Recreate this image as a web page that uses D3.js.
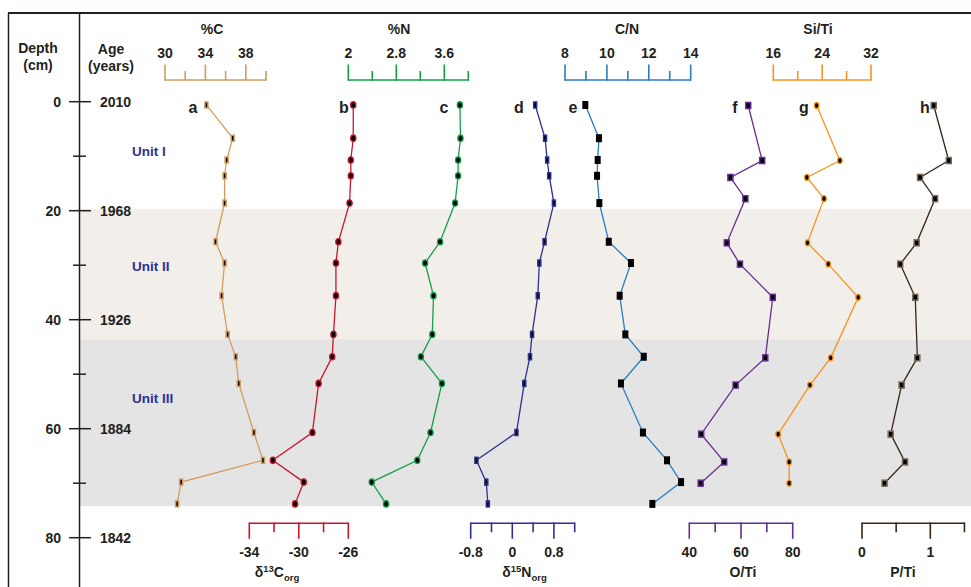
<!DOCTYPE html>
<html>
<head>
<meta charset="utf-8">
<script src="https://cdn.jsdelivr.net/npm/d3@7"></script>
<style>
  html, body { margin: 0; padding: 0; background: #fff; }
  svg { display: block; font-family: "Liberation Sans", Arial, sans-serif; }
</style>
</head>
<body>
<svg id="chart" width="971" height="587"></svg>
<script>
// ---- Data ----
// Sample depths (cm) for the bulk organic measurements (panels a–e)
const depthsOrg = [0.6, 6.7, 10.7, 13.6, 18.6, 25.7, 29.6, 35.6, 42.7, 46.8, 51.7, 60.7, 65.8, 69.8, 73.8];
// Sample depths (cm) for the XRF ratios (panels f–h)
const depthsXrf = [0.7, 10.8, 13.9, 17.8, 25.9, 29.8, 35.9, 47.0, 52.0, 61.0, 66.1, 70.0];

const pctC   = [34.1, 36.7, 36.1, 35.9, 35.9, 35.0, 35.9, 35.6, 36.2, 37.0, 37.3, 38.8, 39.7, 31.6, 31.2];
const d13C   = [-25.6, -25.6, -25.8, -25.8, -25.9, -26.8, -27.0, -27.0, -27.2, -27.3, -28.4, -28.9, -32.1, -29.6, -30.3];
const pctN   = [3.86, 3.87, 3.83, 3.83, 3.78, 3.53, 3.28, 3.42, 3.40, 3.21, 3.56, 3.37, 3.15, 2.39, 2.63];
const d15N   = [0.44, 0.63, 0.67, 0.71, 0.80, 0.62, 0.52, 0.49, 0.38, 0.34, 0.23, 0.08, -0.69, -0.50, -0.47];
const cnRatio = [8.97, 9.62, 9.56, 9.53, 9.64, 10.09, 11.15, 10.61, 10.88, 11.76, 10.67, 11.72, 12.87, 13.54, 12.17];
const oTi    = [62.8, 68.2, 55.9, 61.7, 54.5, 59.6, 72.3, 69.4, 57.9, 44.6, 53.5, 44.4];
const siTi   = [23.1, 26.9, 21.5, 24.3, 21.6, 25.0, 29.9, 25.4, 22.0, 16.8, 18.6, 18.6];
const pTi    = [1.05, 1.27, 0.85, 1.07, 0.80, 0.56, 0.78, 0.81, 0.58, 0.42, 0.63, 0.33];

// Depth axis ticks and the matching ages
const depthTicks = [0, 20, 40, 60, 80];
const depthMinorTicks = [10, 30, 50, 70];
const ageLabels = ["2010", "1968", "1926", "1884", "1842"];

// Lithological units: [top, bottom] depth in cm
const unitNames = ["Unit I", "Unit II", "Unit III"];
const unitBounds = [[0, 19.7], [19.7, 43.6], [43.6, 74.2]];
const unitLabelDepths = [9, 30.2, 54.4];

// Axis ticks for each proxy
const ticksC    = [30, 32, 34, 36, 38, 40];
const ticksN    = [2, 2.4, 2.8, 3.2, 3.6, 4];
const ticksCN   = [8, 9, 10, 11, 12, 13, 14];
const ticksSiTi = [16, 20, 24, 28, 32];
const ticksD13  = [-34, -32, -30, -28, -26];
const ticksD15  = [-0.8, -0.4, 0, 0.4, 0.8, 1.2];
const ticksOTi  = [40, 50, 60, 70, 80];
const ticksPTi  = [0, 0.5, 1, 1.5];

const labelsC    = ["30", "34", "38"];
const labelsN    = ["2", "2.8", "3.6"];
const labelsCN   = ["8", "10", "12", "14"];
const labelsSiTi = ["16", "24", "32"];
const labelsD13  = ["-34", "-30", "-26"];
const labelsD15  = ["-0.8", "0", "0.8"];
const labelsOTi  = ["40", "60", "80"];
const labelsPTi  = ["0", "1"];

// ---- Drawing ----
const svg = d3.select("#chart");
const ink = "#231f20";

const y = d3.scaleLinear().domain([0, 80]).range([101.7, 537.7]);

// Unit background bands
const bandFill = ["none", "#f2efeb", "#e4e4e4"];
svg.append("g").selectAll("rect")
  .data(unitBounds)
  .join("rect")
  .attr("x", 80).attr("width", 891)
  .attr("y", d => y(d[0]))
  .attr("height", d => y(d[1]) - y(d[0]))
  .attr("fill", (d, i) => bandFill[i]);

// Frame lines
svg.append("line").attr("x1", 8).attr("x2", 971).attr("y1", 13).attr("y2", 13)
  .attr("stroke", ink).attr("stroke-width", 2);
svg.append("line").attr("x1", 8.5).attr("x2", 8.5).attr("y1", 13).attr("y2", 587)
  .attr("stroke", ink).attr("stroke-width", 1.5);
svg.append("line").attr("x1", 79.5).attr("x2", 79.5).attr("y1", 13).attr("y2", 587)
  .attr("stroke", ink).attr("stroke-width", 1.5);

// Header labels
const hdr = svg.append("g").attr("font-weight", "bold").attr("font-size", 14)
  .attr("fill", ink).attr("text-anchor", "middle");
hdr.append("text").attr("x", 38).attr("y", 53).text("Depth");
hdr.append("text").attr("x", 38).attr("y", 70).text("(cm)");
hdr.append("text").attr("x", 111).attr("y", 54).text("Age");
hdr.append("text").attr("x", 111).attr("y", 71).text("(years)");

// Depth / age axis
const dAxis = svg.append("g");
dAxis.selectAll("line.major").data(depthTicks).join("line")
  .attr("x1", 69).attr("x2", 91)
  .attr("y1", d => y(d)).attr("y2", d => y(d))
  .attr("stroke", ink).attr("stroke-width", 1.5);
dAxis.selectAll("line.minor").data(depthMinorTicks).join("line")
  .attr("x1", 73).attr("x2", 86)
  .attr("y1", d => y(d)).attr("y2", d => y(d))
  .attr("stroke", ink).attr("stroke-width", 1.5);
dAxis.selectAll("text.depth").data(depthTicks).join("text")
  .attr("x", 61).attr("y", d => y(d) + 5)
  .attr("text-anchor", "end").attr("font-weight", "bold").attr("font-size", 14)
  .attr("fill", ink).text(d => d);
dAxis.selectAll("text.age").data(ageLabels).join("text")
  .attr("x", 100).attr("y", (d, i) => y(depthTicks[i]) + 5)
  .attr("font-weight", "bold").attr("font-size", 14)
  .attr("fill", ink).text(d => d);

// Unit labels
svg.append("g").selectAll("text").data(unitNames).join("text")
  .attr("x", 132).attr("y", (d, i) => y(unitLabelDepths[i]) + 5)
  .attr("font-weight", "bold").attr("font-size", 13.5)
  .attr("fill", "#2e3192").text(d => d);

// Proxy panels
const panels = [
  { key: "a", vals: pctC,    depths: depthsOrg, color: "#d39c5e", dom: [30, 40],   rng: [165, 266],   side: "top",
    ticks: ticksC, labels: labelsC, title: [{ t: "%C" }], titleX: 212, marker: "rect", mw: 3, mh: 6, letterX: 193 },
  { key: "b", vals: d13C,    depths: depthsOrg, color: "#c8172b", dom: [-34, -26], rng: [249.3, 348.3], side: "bottom",
    ticks: ticksD13, labels: labelsD13, title: [{ t: "δ" }, { t: "13", sup: true }, { t: "C" }, { t: "org", sub: true }], titleX: 277, marker: "ellipse", mw: 2.6, mh: 3.2, letterX: 344 },
  { key: "c", vals: pctN,    depths: depthsOrg, color: "#13a04b", dom: [2, 4],     rng: [348.3, 468.3], side: "top",
    ticks: ticksN, labels: labelsN, title: [{ t: "%N" }], titleX: 399, marker: "ellipse", mw: 2.6, mh: 3.2, letterX: 444 },
  { key: "d", vals: d15N,    depths: depthsOrg, color: "#2e3192", dom: [-0.8, 1.2], rng: [470.7, 574.7], side: "bottom",
    ticks: ticksD15, labels: labelsD15, title: [{ t: "δ" }, { t: "15", sup: true }, { t: "N" }, { t: "org", sub: true }], titleX: 524.5, marker: "rect", mw: 3, mh: 6, letterX: 519 },
  { key: "e", vals: cnRatio, depths: depthsOrg, color: "#2b7cc2", dom: [8, 14],    rng: [565, 690.7], side: "top",
    ticks: ticksCN, labels: labelsCN, title: [{ t: "C/N" }], titleX: 627, marker: "block", mw: 6, mh: 8, letterX: 573 },
  { key: "f", vals: oTi,     depths: depthsXrf, color: "#662d91", dom: [40, 80],   rng: [689.3, 792.7], side: "bottom",
    ticks: ticksOTi, labels: labelsOTi, title: [{ t: "O/Ti" }], titleX: 743, marker: "rect", mw: 5, mh: 6, letterX: 735 },
  { key: "g", vals: siTi,    depths: depthsXrf, color: "#f7941d", dom: [16, 32],   rng: [773.3, 871],   side: "top",
    ticks: ticksSiTi, labels: labelsSiTi, title: [{ t: "Si/Ti" }], titleX: 818, marker: "ellipse", mw: 2.3, mh: 3, letterX: 804 },
  { key: "h", vals: pTi,     depths: depthsXrf, color: "#3c2415", dom: [0, 1],     rng: [862, 930.3],   side: "bottom",
    ticks: ticksPTi, labels: labelsPTi, title: [{ t: "P/Ti" }], titleX: 903, marker: "rect", mw: 5, mh: 6, letterX: 925, outline: "#7a6a5e" }
];

panels.forEach(p => {
  const x = d3.scaleLinear().domain(p.dom).range(p.rng);
  const g = svg.append("g");
  const isTop = p.side === "top";
  const base = isTop ? 80 : 523.3;
  const dir = isTop ? -1 : 1;
  const ticks = p.ticks;
  const major = new Set(p.labels.map(Number));

  // axis baseline and ticks
  g.append("line")
    .attr("x1", x(ticks[0])).attr("x2", x(ticks[ticks.length - 1]))
    .attr("y1", base).attr("y2", base)
    .attr("stroke", p.color).attr("stroke-width", 1.6);
  g.selectAll("line.tick").data(ticks).join("line")
    .attr("x1", d => x(d)).attr("x2", d => x(d))
    .attr("y1", base - dir * 0.8)
    .attr("y2", d => base + dir * (major.has(d) ? 15.5 : 9))
    .attr("stroke", p.color).attr("stroke-width", 1.6);

  // tick labels
  g.selectAll("text.lab").data(p.labels).join("text")
    .attr("x", d => x(+d))
    .attr("y", isTop ? 58 : 556.5)
    .attr("text-anchor", "middle").attr("font-weight", "bold").attr("font-size", 14)
    .attr("fill", ink).text(d => d);

  // axis title, with super/subscripts where needed
  const tt = g.append("text")
    .attr("x", p.titleX).attr("y", isTop ? 34 : 577)
    .attr("text-anchor", "middle").attr("font-weight", "bold").attr("font-size", 14)
    .attr("fill", ink);
  let shift = 0;
  p.title.forEach(part => {
    const target = part.sup ? -5 : part.sub ? 4 : 0;
    const s = tt.append("tspan").text(part.t).attr("dy", target - shift);
    if (part.sup || part.sub) s.attr("font-size", 9.5);
    shift = target;
  });

  // series line
  const pts = p.vals.map((v, i) => [x(v), y(p.depths[i])]);
  g.append("path")
    .attr("d", d3.line()(pts))
    .attr("fill", "none").attr("stroke", p.color).attr("stroke-width", 1.3);

  // markers
  const outline = p.outline || p.color;
  if (p.marker === "ellipse") {
    g.selectAll("ellipse").data(pts).join("ellipse")
      .attr("cx", d => d[0]).attr("cy", d => d[1])
      .attr("rx", p.mw).attr("ry", p.mh)
      .attr("fill", "#000").attr("stroke", outline).attr("stroke-width", 1.3);
  } else if (p.marker === "block") {
    g.selectAll("rect.m").data(pts).join("rect")
      .attr("x", d => d[0] - p.mw / 2).attr("y", d => d[1] - p.mh / 2)
      .attr("width", p.mw).attr("height", p.mh)
      .attr("fill", "#000");
  } else {
    g.selectAll("rect.m").data(pts).join("rect")
      .attr("x", d => d[0] - p.mw / 2).attr("y", d => d[1] - p.mh / 2)
      .attr("width", p.mw).attr("height", p.mh)
      .attr("fill", "#000").attr("stroke", outline).attr("stroke-width", 1.5);
  }

  // panel letter
  g.append("text")
    .attr("x", p.letterX).attr("y", 113)
    .attr("text-anchor", "middle").attr("font-weight", "bold").attr("font-size", 16)
    .attr("fill", ink).text(p.key);
});
</script>
</body>
</html>
